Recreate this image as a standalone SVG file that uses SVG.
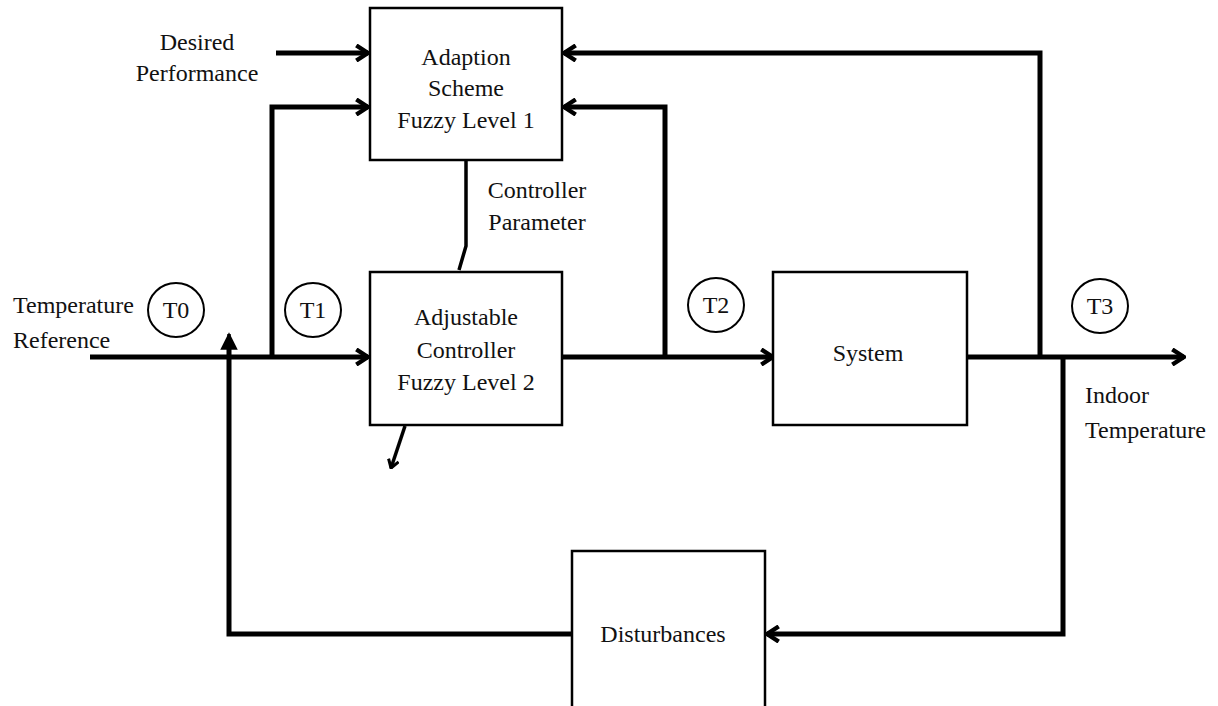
<svg xmlns="http://www.w3.org/2000/svg" width="1218" height="706" viewBox="0 0 1218 706">
  <style>
    text { font-family: "Liberation Serif", "Times New Roman", serif; font-size: 24px; fill: #111; }
    .mid { text-anchor: middle; }
    .box { fill: #fff; stroke: #000; stroke-width: 2.5; }
    .tag { fill: #fff; stroke: #000; stroke-width: 2; }
    .wire { fill: none; stroke: #000; stroke-width: 5; stroke-linejoin: miter; }
    .thin { fill: none; stroke: #000; stroke-width: 3.5; }
  </style>
  <defs>
    <marker id="chev" viewBox="0 0 10 10" refX="9" refY="5" markerWidth="3.6" markerHeight="3.6" orient="auto" markerUnits="strokeWidth">
      <polyline points="2.5,0.8 9,5 2.5,9.2" fill="none" stroke="#000" stroke-width="2.4"/>
    </marker>
    <marker id="tri" viewBox="0 0 10 10" refX="9" refY="5" markerWidth="5" markerHeight="5" orient="auto" markerUnits="strokeWidth">
      <path d="M0,0 L10,5 L0,10 Z" fill="#000"/>
    </marker>
  </defs>

  <rect width="1218" height="706" fill="#fff"/>

  <!-- signal lines -->
  <g id="connectors">
    <!-- reference into controller -->
    <line class="wire" x1="90" y1="357" x2="368" y2="357" marker-end="url(#chev)"/>
    <!-- reference tap to adaption scheme -->
    <polyline class="wire" points="272,357 272,107 368,107" marker-end="url(#chev)"/>
    <!-- desired performance -->
    <line class="wire" x1="276" y1="53" x2="368" y2="53" marker-end="url(#chev)"/>
    <!-- controller output to system -->
    <line class="wire" x1="562" y1="357" x2="773" y2="357" marker-end="url(#chev)"/>
    <!-- control signal back to adaption -->
    <polyline class="wire" points="665,357 665,107 564,107" marker-end="url(#chev)"/>
    <!-- system output -->
    <line class="wire" x1="967" y1="357" x2="1184" y2="357" marker-end="url(#chev)"/>
    <!-- output fed back to adaption -->
    <polyline class="wire" points="1040,357 1040,53 564,53" marker-end="url(#chev)"/>
    <!-- output to disturbances -->
    <polyline class="wire" points="1063,357 1063,634 767,634" marker-end="url(#chev)"/>
    <!-- disturbances back to reference -->
    <polyline class="wire" points="572,634 229,634 229,345" />
    <line class="thin" x1="229" y1="350" x2="229" y2="334" marker-end="url(#tri)"/>
    <!-- controller parameter link -->
    <polyline class="thin" points="466,160 466,246 459,270"/>
    <!-- controller side output -->
    <line class="thin" x1="405" y1="426" x2="391" y2="468" marker-end="url(#chev)"/>
  </g>

  <g id="adaption">
    <rect class="box" x="370" y="8" width="192" height="152"/>
    <text class="mid" x="466" y="65">Adaption</text>
    <text class="mid" x="466" y="96">Scheme</text>
    <text class="mid" x="466" y="128">Fuzzy Level 1</text>
  </g>

  <g id="controller">
    <rect class="box" x="370" y="272" width="192" height="153"/>
    <text class="mid" x="466" y="325">Adjustable</text>
    <text class="mid" x="466" y="358">Controller</text>
    <text class="mid" x="466" y="390">Fuzzy Level 2</text>
  </g>

  <g id="system">
    <rect class="box" x="773" y="272" width="194" height="153"/>
    <text class="mid" x="868" y="361">System</text>
  </g>

  <g id="disturbances">
    <rect class="box" x="572" y="551" width="193" height="160"/>
    <text class="mid" x="663" y="642">Disturbances</text>
  </g>

  <g id="t0">
    <ellipse class="tag" cx="176" cy="310" rx="28" ry="27"/>
    <text class="mid" x="176" y="318">T0</text>
  </g>
  <g id="t1">
    <ellipse class="tag" cx="313" cy="310" rx="28" ry="27"/>
    <text class="mid" x="313" y="318">T1</text>
  </g>
  <g id="t2">
    <ellipse class="tag" cx="716" cy="305" rx="28" ry="27"/>
    <text class="mid" x="716" y="313">T2</text>
  </g>
  <g id="t3">
    <ellipse class="tag" cx="1100" cy="306" rx="28" ry="27"/>
    <text class="mid" x="1100" y="314">T3</text>
  </g>

  <g id="labels">
    <text class="mid" x="197" y="50">Desired</text>
    <text class="mid" x="197" y="81">Performance</text>
    <text class="mid" x="537" y="198">Controller</text>
    <text class="mid" x="537" y="230">Parameter</text>
    <text x="13" y="313">Temperature</text>
    <text x="13" y="348">Reference</text>
    <text x="1085" y="403">Indoor</text>
    <text x="1085" y="438">Temperature</text>
  </g>
</svg>
